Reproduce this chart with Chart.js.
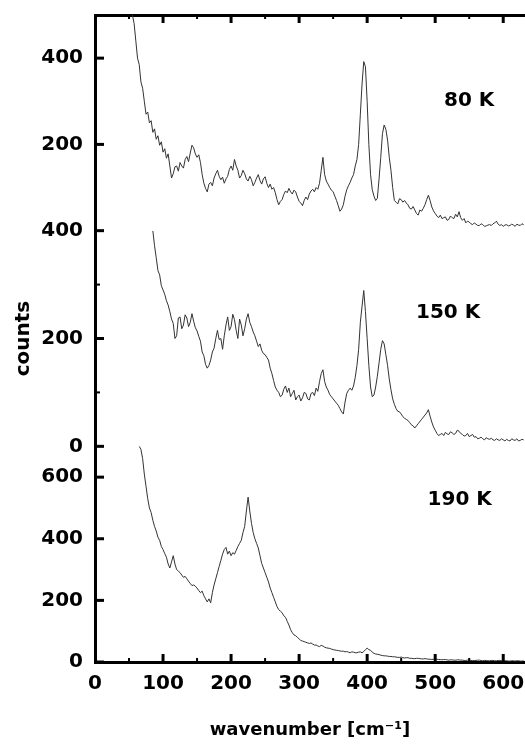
<!DOCTYPE html>
<html><head><meta charset="utf-8">
<script src="https://cdn.jsdelivr.net/npm/chart.js@4.4.0/dist/chart.umd.min.js"></script>
<style>html,body{margin:0;padding:0;background:#fff}#wrap{width:525px;height:745px;position:relative}</style>
</head><body><div id="wrap"><canvas id="c"></canvas></div>
<script>
const wavenumbers = [
  55,57.5,60,62.5,65,67.5,70,72.5,75,77.5,80,82.5,85,87.5,90,92.5,95,97.5,100,102.5,
  105,107.5,110,112.5,115,117.5,120,122.5,125,127.5,130,132.5,135,137.5,140,142.5,145,147.5,150,152.5,
  155,157.5,160,162.5,165,167.5,170,172.5,175,177.5,180,182.5,185,187.5,190,192.5,195,197.5,200,202.5,
  205,207.5,210,212.5,215,217.5,220,222.5,225,227.5,230,232.5,235,237.5,240,242.5,245,247.5,250,252.5,
  255,257.5,260,262.5,265,267.5,270,272.5,275,277.5,280,282.5,285,287.5,290,292.5,295,297.5,300,302.5,
  305,307.5,310,312.5,315,317.5,320,322.5,325,327.5,330,332.5,335,337.5,340,342.5,345,347.5,350,352.5,
  355,357.5,360,362.5,365,367.5,370,372.5,375,377.5,380,382.5,385,387.5,390,392.5,395,397.5,400,402.5,
  405,407.5,410,412.5,415,417.5,420,422.5,425,427.5,430,432.5,435,437.5,440,442.5,445,447.5,450,452.5,
  455,457.5,460,462.5,465,467.5,470,472.5,475,477.5,480,482.5,485,487.5,490,492.5,495,497.5,500,502.5,
  505,507.5,510,512.5,515,517.5,520,522.5,525,527.5,530,532.5,535,537.5,540,542.5,545,547.5,550,552.5,
  555,557.5,560,562.5,565,567.5,570,572.5,575,577.5,580,582.5,585,587.5,590,592.5,595,597.5,600,602.5,
  605,607.5,610,612.5,615,617.5,620,622.5,625,627.5,630
];
const counts80K = [
  500,480,440,400,385,345,330,300,270,275,250,255,228,236,212,220,198,206,182,190,
  168,178,150,122,132,148,150,138,158,150,145,165,172,160,180,198,192,178,170,176,
  158,130,110,98,90,108,112,104,122,132,140,126,118,124,110,120,126,142,150,140,
  165,150,140,122,128,140,132,120,115,126,118,104,112,122,130,116,108,120,125,110,
  100,108,96,100,88,72,60,68,72,84,92,88,98,90,85,94,90,78,68,64,
  58,70,78,72,85,92,96,90,100,96,110,140,170,130,115,108,100,94,90,80,
  70,58,45,50,60,80,95,104,112,122,130,150,165,200,270,340,392,380,300,200,
  130,95,80,70,75,120,170,225,245,235,210,170,140,100,70,66,62,74,72,66,
  70,64,60,52,50,56,48,40,36,48,45,52,60,72,82,70,55,46,40,34,
  30,36,28,30,32,24,26,34,30,28,38,32,44,30,24,28,18,22,20,16,
  14,18,15,12,12,16,14,10,11,13,14,12,16,18,22,15,12,14,10,13,
  14,11,12,15,13,10,15,13,12,16,14
];
const counts150K = [
  null,null,null,null,null,null,null,null,null,null,null,null,400,372,350,326,318,298,290,282,
  270,262,250,236,228,200,205,238,240,218,225,244,238,222,230,246,232,220,214,204,
  195,175,168,152,145,150,160,175,182,200,215,198,200,180,205,225,240,215,222,245,
  235,215,200,236,225,205,218,236,246,230,222,212,205,195,185,190,178,172,170,165,
  160,145,135,122,110,104,100,92,95,106,112,100,108,92,98,104,86,92,95,84,
  90,100,98,88,86,98,100,94,108,102,120,135,142,120,110,104,96,92,88,84,
  80,76,70,64,60,82,98,104,108,104,112,128,150,180,230,260,289,250,200,150,
  110,92,95,110,130,155,180,196,190,170,150,125,105,88,78,70,65,64,60,55,
  52,50,48,44,40,38,34,38,42,46,50,54,58,62,68,56,45,36,30,24,
  20,22,24,20,26,23,22,27,25,22,24,30,28,24,22,19,20,24,18,20,
  22,17,18,14,15,17,14,12,16,14,13,15,12,11,14,12,11,14,12,10,
  13,11,10,14,12,11,14,10,11,13,12
];
const counts190K = [
  null,null,null,null,700,690,660,610,570,530,500,485,460,440,425,405,395,375,365,352,
  340,318,305,325,345,318,300,295,290,282,275,278,270,262,255,248,250,246,240,232,
  225,230,215,205,195,205,192,225,250,270,290,310,330,350,365,372,350,360,345,355,
  350,362,375,385,395,420,440,490,535,490,450,420,400,385,370,345,320,305,290,275,
  260,240,225,210,195,180,170,165,160,150,145,132,120,105,95,88,85,80,75,70,
  68,66,64,62,60,62,58,55,55,52,50,54,52,48,46,45,44,42,40,39,
  38,37,36,35,35,33,34,32,30,33,32,30,30,32,33,30,34,40,45,40,
  38,32,28,26,25,24,22,21,20,20,19,18,18,17,17,16,15,15,16,14,
  13,14,14,12,12,11,11,12,12,11,10,10,11,10,9,9,8,9,10,9,
  8,8,7,8,8,7,6,7,7,6,6,7,7,6,6,5,5,6,6,5,
  5,5,5,6,6,5,4,5,5,4,4,5,5,4,4,5,5,4,4,4,
  4,3,3,4,4,3,4,4,3,3,4
];
const xTickLabels = [0,100,200,300,400,500,600];
const topTickLabels = [200,400];
const midTickLabels = [0,200,400];
const botTickLabels = [0,200,400,600];
const tempLabels = ['80 K','150 K','190 K'];
const tempLabelX = [550,519,536];
const tempLabelY = [300,247,527];
const tempLabelAxis = ['yTop','yMid','yBot'];

const FONT = 'DejaVu Sans';
const tickFont = {family: FONT, size: 20, weight: 'bold'};

function pts(arr){ return wavenumbers.map((w,i)=>({x:w,y:arr[i]})).filter(p=>p.y!==null && p.y!==undefined); }

const inwardTicks = {
  id:'inwardTicks',
  afterDatasetsDraw(chart){
    const {ctx, chartArea:a} = chart;
    ctx.save(); ctx.strokeStyle='#000'; ctx.lineCap='butt';
    ['yTop','yMid','yBot'].forEach(id=>{
      const s = chart.scales[id];
      s.ticks.forEach(t=>{
        if (t.value >= s.max) return;
        const major = t.value % 200 === 0;
        const y = s.getPixelForValue(t.value);
        ctx.lineWidth = major ? 3 : 2;
        ctx.beginPath(); ctx.moveTo(a.left, y); ctx.lineTo(a.left + (major ? 9 : 5), y); ctx.stroke();
      });
    });
    [['x', a.bottom, -1], ['x2', a.top, 1]].forEach(([id, base, dir])=>{
      const s = chart.scales[id];
      s.ticks.forEach(t=>{
        if (t.value <= 0) return;
        const major = t.value % 100 === 0;
        const x = s.getPixelForValue(t.value);
        ctx.lineWidth = major ? 3 : 2;
        ctx.beginPath(); ctx.moveTo(x, base); ctx.lineTo(x, base + dir*(major ? 8 : 4)); ctx.stroke();
      });
    });
    ctx.restore();
  }
};
const tempText = {
  id:'tempText',
  afterDatasetsDraw(chart){
    const ctx = chart.ctx;
    ctx.save();
    ctx.font = 'bold 20px "' + FONT + '"';
    ctx.fillStyle = '#000'; ctx.textAlign='center'; ctx.textBaseline='middle';
    tempLabels.forEach((txt,i)=>{
      const x = chart.scales.x.getPixelForValue(tempLabelX[i]);
      const y = chart.scales[tempLabelAxis[i]].getPixelForValue(tempLabelY[i]);
      ctx.fillText(txt, x, y);
    });
    ctx.restore();
  }
};

function yScale(max, labels, weight, title){
  return {
    type:'linear', position:'left', stack:'panels', stackWeight:1, weight:weight,
    min:0, max:max,
    ticks:{stepSize:100, includeBounds:false, padding:12, font:tickFont, color:'#000',
      callback:v=>labels.includes(v)?String(v):''},
    grid:{display:false, drawOnChartArea:false, drawTicks:false},
    border:{display:true, color:'#000', width:3},
    title: title ? {display:true, text:title, font:{family:FONT,size:20,weight:'bold'}, color:'#000', padding:{top:12,bottom:0}} : {display:false},
    afterFit:s=>{s.width=95; s.paddingTop=0; s.paddingBottom=0;}
  };
}
const lineStyle = {borderColor:'#333333', borderWidth:1, pointRadius:0, tension:0, fill:false, xAxisID:'x'};

new Chart(document.getElementById('c'), {
  type:'line',
  data:{datasets:[
    Object.assign({label:'80 K', data:pts(counts80K), yAxisID:'yTop'}, lineStyle),
    Object.assign({label:'150 K', data:pts(counts150K), yAxisID:'yMid'}, lineStyle),
    Object.assign({label:'190 K', data:pts(counts190K), yAxisID:'yBot'}, lineStyle)
  ]},
  options:{
    responsive:true, maintainAspectRatio:false, animation:false,
    layout:{padding:{top:15,right:0,bottom:0,left:0}},
    plugins:{legend:{display:false}, tooltip:{enabled:false}},
    scales:{
      x:{type:'linear', position:'bottom', min:0, max:632,
        ticks:{stepSize:50, includeBounds:false, padding:10, font:tickFont, color:'#000', maxRotation:0, autoSkip:false,
          callback:v=>xTickLabels.includes(v)?String(v):''},
        grid:{display:false, drawOnChartArea:false, drawTicks:false},
        border:{display:true, color:'#000', width:3},
        title:{display:true, text:'wavenumber [cm⁻¹]', font:{family:FONT,size:18,weight:'bold'}, color:'#000', padding:{top:0,bottom:4}},
        afterFit:s=>{s.height=83; s.paddingLeft=0; s.paddingRight=0;}
      },
      x2:{type:'linear', position:'top', min:0, max:632,
        ticks:{display:false, stepSize:50, includeBounds:false},
        grid:{display:false, drawOnChartArea:false, drawTicks:false},
        border:{display:true, color:'#000', width:3},
        afterFit:s=>{s.height=0; s.paddingLeft=0; s.paddingRight=0;}
      },
      yTop: yScale(500, topTickLabels, 3, null),
      yMid: yScale(400, midTickLabels, 2, 'counts'),
      yBot: yScale(700, botTickLabels, 1, null)
    }
  },
  plugins:[inwardTicks, tempText]
});
</script></body></html>
